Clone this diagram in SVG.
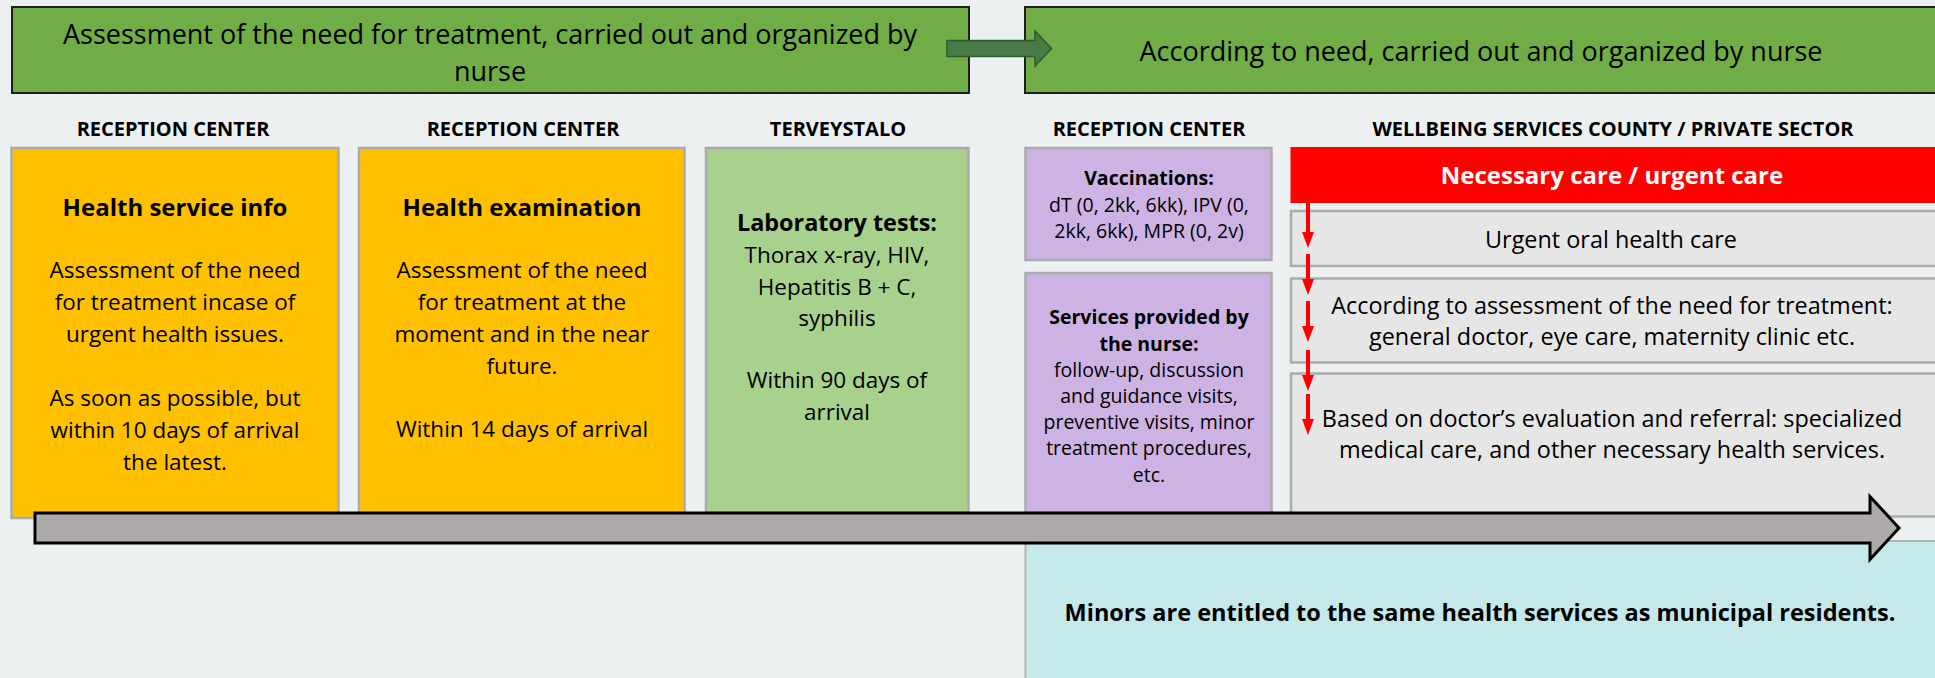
<svg xmlns="http://www.w3.org/2000/svg" width="1935" height="678" viewBox="0 0 1935 678">
  <defs>
    <style>
      .t { font-family: "Open Sans", "Liberation Sans", sans-serif; fill: #000; text-anchor: middle; }
      .b { font-weight: bold; }
      .hdr { font-size: 20px; font-weight: bold; }
      .banner { fill: #70ad47; stroke: #1e1e1e; stroke-width: 2; }
      .card { stroke: #ababab; stroke-width: 2.5; }
      .yellow { fill: #ffc000; }
      .lgreen { fill: #a9d18e; }
      .purple { fill: #cdb3e3; }
      .grey { fill: #e6e6e6; }
      .body { font-size: 22.5px; }
      .wide { font-size: 23.4px; }
      .head { font-size: 24px; font-weight: bold; }
      .small { font-size: 19.5px; }
      .redline { stroke: #ff0000; stroke-width: 4; fill: none; }
    </style>
    <marker id="redHead" markerWidth="4" markerHeight="3" refX="2" refY="1.5" orient="auto" markerUnits="strokeWidth">
      <path d="M0,0 L4,1.5 L0,3 Z" fill="#ff0000"/>
    </marker>
  </defs>

  <!-- page background -->
  <rect x="0" y="0" width="1935" height="678" fill="#ecf0f1"/>

  <!-- top banners -->
  <g id="banner-assessment">
    <rect class="banner" x="12" y="7" width="957" height="86"/>
    <text class="t" x="490" y="44" font-size="27">Assessment of the need for treatment, carried out and organized by</text>
    <text class="t" x="490" y="81" font-size="27">nurse</text>
  </g>
  <g id="banner-need">
    <rect class="banner" x="1025" y="7" width="920" height="86"/>
    <text class="t" x="1481" y="61" font-size="27">According to need, carried out and organized by nurse</text>
  </g>

  <!-- column headers -->
  <g id="headers">
    <text class="t hdr" x="173" y="136">RECEPTION CENTER</text>
    <text class="t hdr" x="523" y="136">RECEPTION CENTER</text>
    <text class="t hdr" x="838" y="136">TERVEYSTALO</text>
    <text class="t hdr" x="1149" y="136">RECEPTION CENTER</text>
    <text class="t hdr" x="1613" y="136">WELLBEING SERVICES COUNTY / PRIVATE SECTOR</text>
  </g>

  <!-- minors note -->
  <g id="minors">
    <rect x="1025.5" y="541" width="920" height="140" fill="#c5e8eb" stroke="#b4b4b4" stroke-width="2"/>
    <text class="t b" x="1480" y="621" font-size="23.5">Minors are entitled to the same health services as municipal residents.</text>
  </g>

  <g id="health-service-info">
    <rect class="card yellow" x="11.5" y="148" width="327" height="370"/>
    <text class="t head" x="175" y="216">Health service info</text>
    <text class="t body" x="175" y="278">Assessment of the need</text>
    <text class="t body" x="175" y="310">for treatment incase of</text>
    <text class="t body" x="175" y="342">urgent health issues.</text>
    <text class="t body" x="175" y="406">As soon as possible, but</text>
    <text class="t body" x="175" y="438">within 10 days of arrival</text>
    <text class="t body" x="175" y="470">the latest.</text>
  </g>

  <g id="health-examination">
    <rect class="card yellow" x="359" y="148" width="325.5" height="370"/>
    <text class="t head" x="522" y="216">Health examination</text>
    <text class="t body" x="522" y="278">Assessment of the need</text>
    <text class="t body" x="522" y="310">for treatment at the</text>
    <text class="t body" x="522" y="342">moment and in the near</text>
    <text class="t body" x="522" y="374">future.</text>
    <text class="t body" x="522" y="437">Within 14 days of arrival</text>
  </g>

  <g id="laboratory-tests">
    <rect class="card lgreen" x="706" y="148" width="262.5" height="370"/>
    <text class="t b" x="837" y="231" font-size="23.4">Laboratory tests:</text>
    <text class="t body" x="837" y="263">Thorax x-ray, HIV,</text>
    <text class="t body" x="837" y="295">Hepatitis B + C,</text>
    <text class="t body" x="837" y="326">syphilis</text>
    <text class="t body" x="837" y="388">Within 90 days of</text>
    <text class="t body" x="837" y="420">arrival</text>
  </g>

  <g id="vaccinations">
    <rect class="card purple" x="1025.5" y="148" width="246" height="112"/>
    <text class="t b small" x="1149" y="185">Vaccinations:</text>
    <text class="t small" x="1149" y="212">dT (0, 2kk, 6kk), IPV (0,</text>
    <text class="t small" x="1149" y="238">2kk, 6kk), MPR (0, 2v)</text>
  </g>

  <g id="nurse-services">
    <rect class="card purple" x="1025.5" y="273" width="246" height="245"/>
    <text class="t b small" x="1149" y="324">Services provided by</text>
    <text class="t b small" x="1149" y="351">the nurse:</text>
    <text class="t small" x="1149" y="377">follow-up, discussion</text>
    <text class="t small" x="1149" y="403">and guidance visits,</text>
    <text class="t small" x="1149" y="429">preventive visits, minor</text>
    <text class="t small" x="1149" y="455">treatment procedures,</text>
    <text class="t small" x="1149" y="482">etc.</text>
  </g>

  <g id="urgent-care">
    <rect x="1290.5" y="147" width="650" height="56" fill="#ff0000"/>
    <text class="t head" x="1612" y="184" style="fill:#ffffff">Necessary care / urgent care</text>
  </g>

  <g id="oral-health">
    <rect class="card grey" x="1291" y="211" width="650" height="55"/>
    <text class="t wide" x="1611" y="248">Urgent oral health care</text>
  </g>

  <g id="assessment-based">
    <rect class="card grey" x="1291" y="278.5" width="650" height="84"/>
    <text class="t wide" x="1612" y="314">According to assessment of the need for treatment:</text>
    <text class="t wide" x="1612" y="345">general doctor, eye care, maternity clinic etc.</text>
  </g>

  <g id="specialized-care">
    <rect class="card grey" x="1291" y="373.5" width="650" height="143"/>
    <text class="t wide" x="1612" y="427">Based on doctor’s evaluation and referral: specialized</text>
    <text class="t wide" x="1612" y="458">medical care, and other necessary health services.</text>
  </g>

  <!-- connectors -->
  <g id="connectors">
    <!-- banner to banner -->
    <path d="M947,40.5 L1035,40.5 L1035,31 L1051.5,48.5 L1035,66 L1035,56.5 L947,56.5 Z" fill="#487b46" stroke="#2f5a2d" stroke-width="1.5"/>
    <!-- red care-path steps -->
    <g class="red-steps">
      <line class="redline" x1="1308" y1="203" x2="1308" y2="240" marker-end="url(#redHead)"/>
      <line class="redline" x1="1308" y1="254" x2="1308" y2="287" marker-end="url(#redHead)"/>
      <line class="redline" x1="1308" y1="301" x2="1308" y2="334" marker-end="url(#redHead)"/>
      <line class="redline" x1="1308" y1="350" x2="1308" y2="383" marker-end="url(#redHead)"/>
      <line class="redline" x1="1308" y1="394" x2="1308" y2="427" marker-end="url(#redHead)"/>
    </g>
    <!-- timeline -->
    <path d="M35,513 L1870,513 L1870,496.5 L1899,528 L1870,559.5 L1870,543 L35,543 Z" fill="#aeaaaa" stroke="#000" stroke-width="3" stroke-linejoin="miter"/>
  </g>
</svg>
